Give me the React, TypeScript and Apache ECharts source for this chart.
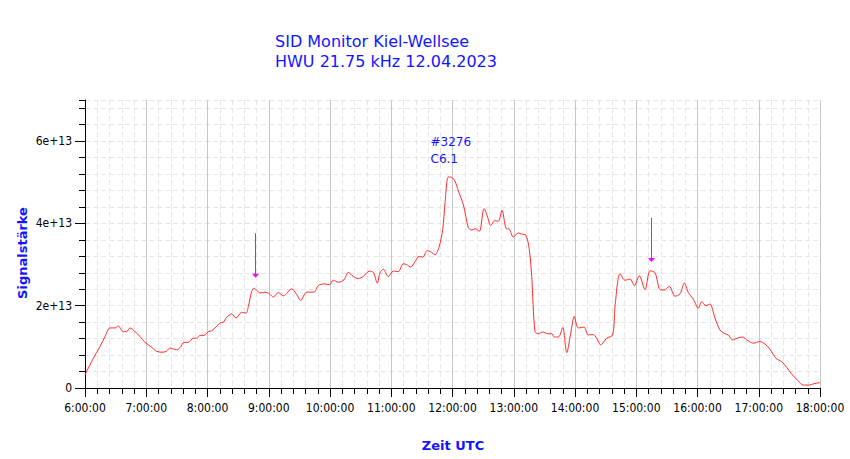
import React, { useEffect, useRef } from "react";
import * as echarts from "echarts";

// minutes after 6:00 UTC
const minutes = [
  0, 8.1, 14.7, 19.6, 24.5, 29.4, 32.6, 37.5, 40.8, 44.1, 49.0, 53.9, 58.8, 65.3, 70.2, 76.7, 80.0, 83.3, 89.8, 93.1,
  97.0, 101.2, 106.1, 109.4, 112.7, 116.6, 120.8, 124.1, 129.0, 132.2, 135.5, 138.8, 143.7, 147.9, 153.5, 157.7, 160.0, 163.3, 165.6, 168.2,
  171.4, 176.3, 180.5, 184.5, 189.4, 194.3, 202.5, 207.4, 211.3, 217.2, 224.3, 228.5, 235.1, 239.3, 243.2, 248.1, 253.7, 257.9, 262.8, 267.7,
  272.6, 278.5, 282.4, 286.3, 289.0, 292.2, 297.1, 302.0, 306.9, 311.8, 315.1, 319.1, 323.3, 327.2, 330.8, 335.3, 338.6, 342.9, 347.1, 350.4,
  352.7, 355.9, 359.2, 362.4, 365.7, 370.6, 375.5, 378.8, 382.0, 386.3, 390.9, 394.1, 397.4, 401.6, 404.9, 408.5, 412.4, 415.7, 419.6, 424.5,
  427.8, 431.7, 435.2, 437.6, 440.8, 444.1, 448.4, 452.9, 457.2, 459.7, 463.7, 468.0, 471.9, 475.8, 479.3, 483.2, 488.8, 493.0, 497.9, 501.2,
  505.2, 511.1, 516.9, 519.2, 524.1, 529.0, 533.9, 538.1, 543.0, 548.6, 553.5, 558.4, 563.3, 567.5, 572.4, 578.0, 582.9, 587.1, 591.0, 595.9,
  600.8, 604.1, 608.3, 612.2, 617.1, 622.0, 626.9, 630.2, 634.5, 639.0, 644.3, 648.2, 654.7, 661.2, 666.1, 671.0, 676.9, 682.5, 687.4, 692.3,
  698.7, 703.6, 708.5, 715.1, 720,
];

// signal strength in units of 1e13
const signal = [
  0.32, 0.72, 1.01, 1.25, 1.46, 1.46, 1.51, 1.37, 1.37, 1.46, 1.37, 1.25, 1.11, 0.99, 0.89, 0.87, 0.90, 0.97, 0.93, 0.98,
  1.11, 1.11, 1.21, 1.21, 1.28, 1.28, 1.37, 1.39, 1.50, 1.58, 1.60, 1.72, 1.80, 1.70, 1.84, 1.82, 1.98, 2.35, 2.43, 2.37,
  2.31, 2.33, 2.29, 2.21, 2.32, 2.24, 2.41, 2.27, 2.13, 2.33, 2.33, 2.49, 2.53, 2.51, 2.62, 2.57, 2.63, 2.81, 2.71, 2.66,
  2.71, 2.84, 2.81, 2.55, 2.80, 2.89, 2.71, 2.84, 2.83, 3.02, 3.00, 2.94, 3.07, 3.20, 3.18, 3.34, 3.31, 3.24, 3.45, 3.85,
  4.50, 5.13, 5.12, 5.03, 4.79, 4.46, 3.90, 3.84, 3.87, 3.81, 4.36, 4.18, 3.95, 4.07, 4.05, 4.32, 3.88, 3.86, 3.67, 3.77,
  3.74, 3.72, 3.37, 2.71, 1.37, 1.32, 1.36, 1.32, 1.32, 1.24, 1.24, 1.47, 0.86, 1.33, 1.74, 1.46, 1.48, 1.29, 1.30, 1.21,
  1.05, 1.21, 1.29, 1.98, 2.78, 2.62, 2.65, 2.49, 2.73, 2.39, 2.85, 2.80, 2.39, 2.38, 2.47, 2.23, 2.29, 2.55, 2.32, 2.16,
  1.94, 2.10, 2.00, 2.04, 1.70, 1.41, 1.32, 1.29, 1.17, 1.21, 1.24, 1.17, 1.09, 1.13, 1.07, 0.94, 0.72, 0.64, 0.50, 0.34,
  0.17, 0.07, 0.07, 0.11, 0.13,
];

const xTickLabels = [
  "6:00:00", "7:00:00", "8:00:00", "9:00:00", "10:00:00", "11:00:00", "12:00:00",
  "13:00:00", "14:00:00", "15:00:00", "16:00:00", "17:00:00", "18:00:00",
];
const yTickLabels = ["0", "2e+13", "4e+13", "6e+13"];

const titleLines = ["SID Monitor Kiel-Wellsee", "HWU 21.75 kHz 12.04.2023"];
const xName = "Zeit UTC";
const yName = "Signalstärke";

// event arrows: time (minutes after 6:00), arrow top and tip values (1e13)
const arrowTimes = [166.5, 554.4];
const arrowTops = [3.76, 4.14];
const arrowTips = [2.68, 3.06];

// flare annotation
const flareText = ["#3276", "C6.1"];
const flareTime = 338;
const flareValue = 5.77;

const SCALE = 1e13;
const BLUE = "#1414ff";
const MAGENTA = "#ff00ff";

export default function App() {
  const ref = useRef<HTMLDivElement>(null);

  useEffect(() => {
    if (!ref.current) return;
    const chart = echarts.init(ref.current, undefined, { renderer: "svg" });
    const data = minutes.map((m, i) => [m, signal[i] * SCALE]);
    const arrowData = arrowTimes.map((t, i) => [t, arrowTops[i] * SCALE, arrowTips[i] * SCALE]);
    const tickFont = "'DejaVu Sans Condensed', 'DejaVu Sans', sans-serif";

    chart.setOption({
      animation: false,
      backgroundColor: "#ffffff",
      grid: { left: 85, right: 30, top: 100, bottom: 71, containLabel: false },
      xAxis: {
        type: "value",
        min: 0,
        max: 720,
        interval: 60,
        axisLine: { show: true, onZero: false, lineStyle: { color: "#000", width: 1 } },
        axisTick: { show: true, length: 9, lineStyle: { color: "#000" } },
        minorTick: { show: true, splitNumber: 5, length: 6, lineStyle: { color: "#000" } },
        axisLabel: {
          margin: 14,
          color: "#000",
          fontSize: 12,
          fontFamily: tickFont,
          formatter: (v: number) => xTickLabels[Math.round(v / 60)] ?? "",
        },
        splitLine: { show: true, lineStyle: { color: "#c8c8c8", width: 1 } },
        minorSplitLine: { show: true, lineStyle: { color: "#e6e6e6", width: 1, type: [5, 3] } },
      },
      yAxis: [
        {
          type: "value",
          min: 0,
          max: 7 * SCALE,
          interval: 2 * SCALE,
          axisLine: { show: true, onZero: false, lineStyle: { color: "#000", width: 1 } },
          axisTick: { show: true, length: 10, lineStyle: { color: "#000" } },
          axisLabel: {
            margin: 13,
            color: "#000",
            fontSize: 12,
            fontFamily: tickFont,
            showMaxLabel: false,
            formatter: (v: number) => {
              const k = v / (2 * SCALE);
              return Number.isInteger(k) ? yTickLabels[k] ?? "" : "";
            },
          },
          splitLine: { show: false },
        },
        {
          type: "value",
          position: "left",
          min: 0,
          max: 7 * SCALE,
          interval: 0.4 * SCALE,
          axisLine: { show: false },
          axisTick: { show: true, length: 6, lineStyle: { color: "#000" } },
          axisLabel: { show: false },
          splitLine: { show: true, lineStyle: { color: "#e6e6e6", width: 1, type: [5, 3] } },
        },
      ],
      series: [
        {
          type: "line",
          data,
          xAxisIndex: 0,
          yAxisIndex: 0,
          showSymbol: false,
          symbol: "none",
          smooth: 0.3,
          lineStyle: { color: "#ff2a2a", width: 1 },
          z: 5,
          markPoint: {
            silent: true,
            symbol: "circle",
            symbolSize: 1,
            itemStyle: { color: "rgba(0,0,0,0)" },
            label: {
              show: true,
              position: "right",
              distance: 0,
              color: BLUE,
              fontSize: 12,
              lineHeight: 17,
              fontFamily: "'DejaVu Sans', sans-serif",
              formatter: flareText.join("\n"),
            },
            data: [{ coord: [flareTime, flareValue * SCALE] }],
          },
        },
        {
          type: "custom",
          xAxisIndex: 0,
          yAxisIndex: 0,
          data: arrowData,
          encode: { x: 0, y: [1, 2] },
          clip: false,
          silent: true,
          z: 6,
          renderItem: (_params: any, api: any) => {
            const top = api.coord([api.value(0), api.value(1)]);
            const tip = api.coord([api.value(0), api.value(2)]);
            const x = Math.round(tip[0]);
            return {
              type: "group",
              children: [
                {
                  type: "rect",
                  shape: { x: x, y: top[1], width: 1, height: tip[1] - 3 - top[1] },
                  style: { fill: MAGENTA },
                },
                {
                  type: "polygon",
                  shape: {
                    points: [
                      [x - 3, tip[1] - 4],
                      [x + 4, tip[1] - 4],
                      [x + 0.5, tip[1]],
                    ],
                  },
                  style: { fill: MAGENTA },
                },
              ],
            };
          },
        },
      ],
      graphic: [
        {
          type: "text",
          left: 275,
          top: 31,
          style: {
            text: titleLines.join("\n"),
            fill: BLUE,
            font: "16px 'DejaVu Sans', sans-serif",
            lineHeight: 20,
          },
        },
        {
          type: "text",
          x: 453,
          y: 445,
          style: {
            text: xName,
            fill: BLUE,
            font: "bold 13px 'DejaVu Sans', sans-serif",
            align: "center",
            verticalAlign: "middle",
          },
        },
        {
          type: "text",
          x: 22,
          y: 253,
          rotation: Math.PI / 2,
          style: {
            text: yName,
            fill: BLUE,
            font: "bold 13px 'DejaVu Sans', sans-serif",
            align: "center",
            verticalAlign: "middle",
          },
        },
      ],
    });

    return () => chart.dispose();
  }, []);

  return (
    <div
      ref={ref}
      style={{ position: "fixed", left: 0, top: 0, width: 850, height: 459 }}
    />
  );
}
